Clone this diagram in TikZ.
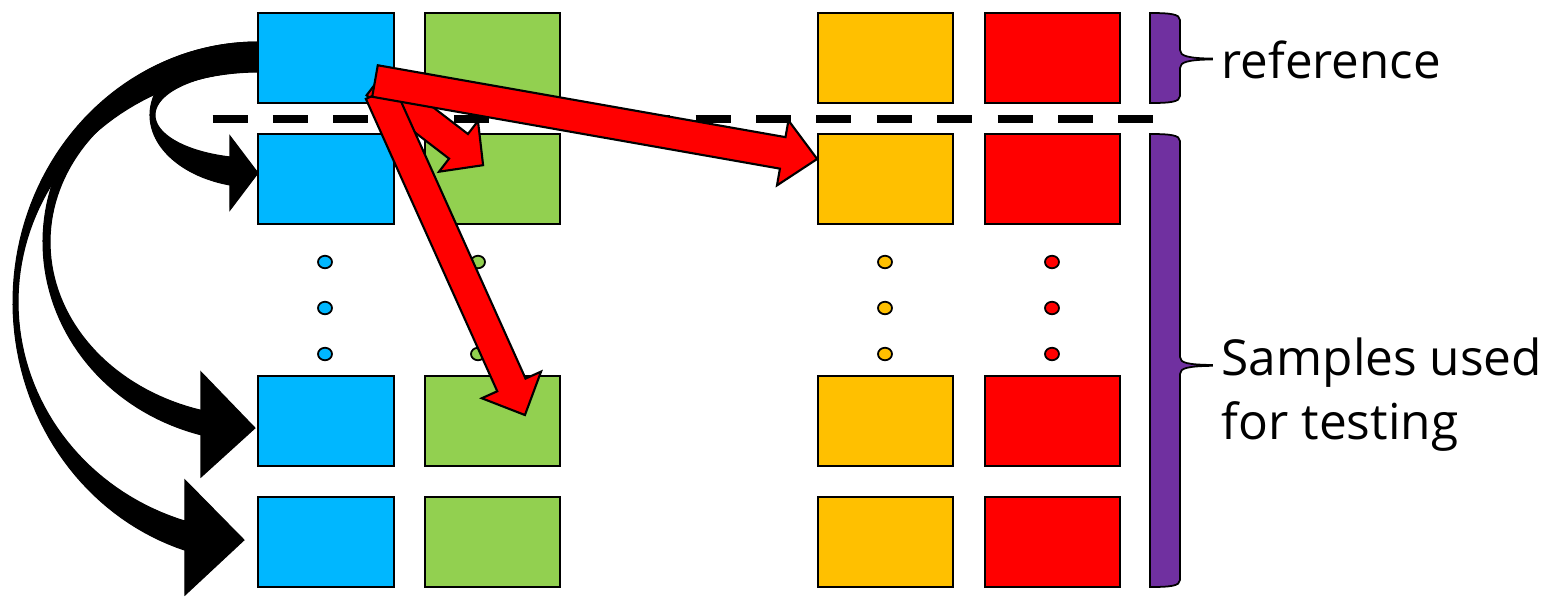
\documentclass[tikz,border=0pt]{standalone}
\usepackage{fontspec}
\setmainfont{Open Sans}
\usetikzlibrary{shapes.geometric}
\definecolor{cblue}{HTML}{00B7FF}
\definecolor{cgreen}{HTML}{92D050}
\definecolor{corange}{HTML}{FFC000}
\definecolor{cred}{HTML}{FF0000}
\definecolor{cpurple}{HTML}{7030A0}
\newcommand\rdarrow[7]{%
  \begin{scope}[shift={(#1,#2)},rotate=-#3]
    \draw[redarr] (0,{-#5/2}) -- ({#4-#7},{-#5/2}) -- ({#4-#7},{-#6/2}) -- (#4,0)
      -- ({#4-#7},{#6/2}) -- ({#4-#7},{#5/2}) -- (0,{#5/2}) -- cycle;
  \end{scope}}
\newcommand\blkarrow[9]{% cx cy rxo ryo rxi ryi phio phii headspec
  \fill[draw=black,line width=0.3pt]
    plot[domain=90:#7,samples=80] ({#1+#3*cos(\x)},{#2-#4*sin(\x)})
    #9
    -- plot[domain=#8:90,samples=80] ({#1+#5*cos(\x)},{#2-#6*sin(\x)}) -- cycle;}
\begin{document}
\begin{tikzpicture}[x=0.01cm,y=-0.01cm,
  box/.style={draw=black,line width=0.6pt,minimum width=1.355cm,minimum height=0.9cm,inner sep=0pt},
  dotn/.style={ellipse,draw=black,line width=0.5pt,minimum width=0.14cm,minimum height=0.125cm,inner sep=0pt},
  redarr/.style={fill=cred,draw=black,line width=0.6pt,line join=miter},
  brace/.style={fill=cpurple,draw=black,line width=0.5pt},
  lbl/.style={font=\fontsize{14.1}{18}\selectfont,inner sep=0pt,anchor=base west}]
\useasboundingbox (0,0) rectangle (1547,596);

% boxes
\foreach \c/\col/\x in {b/cblue/326,g/cgreen/492.5,o/corange/885.5,r/cred/1052.5}{
  \foreach \r/\y in {1/58,2/179,3/421,4/542}{
    \node[box,fill=\col] (\c\r) at (\x,\y) {};
  }
}
% dots
\foreach \c/\col/\x in {b/cblue/325,g/cgreen/478,o/corange/885,r/cred/1052}{
  \foreach \r/\y in {1/262,2/308,3/354}{
    \node[dotn,fill=\col] (d\c\r) at (\x,\y) {};
  }
}
% dashed separator
\coordinate (dl) at (212.5,119);
\coordinate (dr) at (1155,119);
\draw[line width=2.28pt,dash pattern=on 0.35cm off 0.2536cm] (dl) -- (dr);

% black curved arrows
\blkarrow{258}{302}{245}{260}{240}{230}{252.66}{252.29}{-- (185,595) -- (244,540) -- (185,480)}
\blkarrow{258}{242}{215}{200}{208}{175}{254.63}{254.10}{-- (201,477) -- (255,428) -- (201,372)}
\blkarrow{258}{115}{108}{72.5}{103}{43.6}{254.97}{254.23}{-- (230,210) -- (258,173) -- (230,136)}

% red block arrows
\rdarrow{376}{83}{37.5}{135}{31}{64}{31}
\rdarrow{380}{92.5}{65.8}{353.6}{31}{65}{33}
\rdarrow{375}{81}{10.0}{449}{32}{66}{35}

% braces
\draw[brace] (1150,13) .. controls (1170,13) and (1180,14) .. (1180,20) -- (1180,50)
  .. controls (1180,56) and (1188,58.2) .. (1212,58.6) -- (1212,59.4)
  .. controls (1188,59.8) and (1180,62) .. (1180,68) -- (1180,96)
  .. controls (1180,102) and (1170,103) .. (1150,103) -- cycle;
\draw[brace] (1150,134) .. controls (1170,134) and (1180,135) .. (1180,141) -- (1180,357)
  .. controls (1180,363) and (1188,364.6) .. (1212,365) -- (1212,365.8)
  .. controls (1188,366.2) and (1180,368) .. (1180,374) -- (1180,580)
  .. controls (1180,586) and (1170,587) .. (1150,587) -- cycle;

% labels
\node[lbl,font=\fontsize{14}{18}\selectfont] (tref) at (1221,78) {reference};
\node[lbl] (tsam1) at (1221,375) {Samples used};
\node[lbl] (tsam2) at (1221,439) {for testing};
\end{tikzpicture}
\end{document}
